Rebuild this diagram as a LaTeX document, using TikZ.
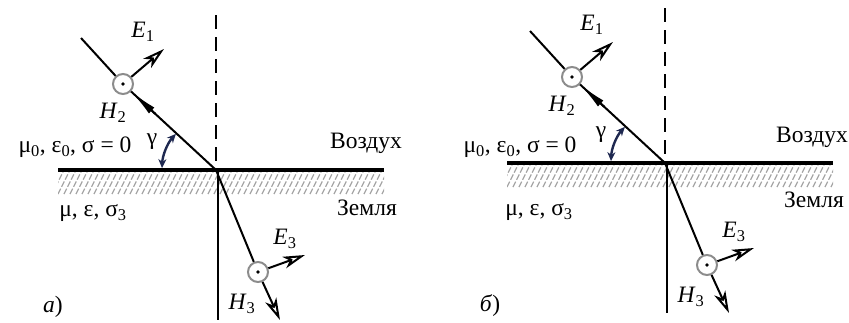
\documentclass[tikz,border=0pt]{standalone}
\usepackage{fontspec}
\setmainfont{Liberation Serif}
\usetikzlibrary{arrows.meta,calc}
\newcommand\panelgeom{%
  \coordinate (O) at (0,0);
  \coordinate (dtop) at (0,-155);
  \coordinate (il) at (-158,0);
  \coordinate (ir) at (168,0);
  \begin{scope}
    \clip (-158,2) rectangle (168,24);
    \foreach \x in {-176,-170,...,180} \draw[hatch] (\x,24) -- (\x+11,2);
  \end{scope}
  \draw[iface] (il) -- (ir);
  \draw[dashv] (dtop) -- (O);
  \coordinate (vt) at (2,0);
  \coordinate (vb) at (2,150);
  \draw[vline] (vt) -- (vb);
  \coordinate (s1) at (-135,-132);
  \node[fieldcirc] (c1) at (-93,-86) {};
  \draw[ray] (s1) -- (c1);
  \draw[ray] (c1) -- (O);
  \coordinate (e1) at (-52,-121);
  \draw[evec] (c1) -- (e1);
  \coordinate (h2tip) at ($(c1)!11pt!(O)$);
  \coordinate (h2tail) at ($(c1)!44pt!(O)$);
  \draw[hvec] (h2tail) -- (h2tip);
  \node[fieldcirc] (c3) at (42,102) {};
  \draw[ray] (O) -- (c3);
  \coordinate (h3) at (64,150);
  \draw[evec] (c3) -- (h3);
  \coordinate (e3) at (89,85);
  \draw[evec] (c3) -- (e3);
  \draw[garc] ($(O)+(222:54)$) arc[start angle=222,end angle=182,radius=54];
  \node[lbl] (lE1) at (-73,-138) {\textit{E}\textsubscript{1}};
  \node[lbl] (lH2) at (-103,-57) {\textit{H}\textsubscript{2}};
  \node[lbl] (lg) at (-64,-28) {γ};
  \node[lbl] (lE3) at (69,69) {\textit{E}\textsubscript{3}};
  \node[lbl] (lH3) at (26,134) {\textit{H}\textsubscript{3}};
}
\tikzset{
  lbl/.style={inner sep=0pt, font=\fontsize{23.5}{27}\selectfont},
  ray/.style={line width=2pt},
  iface/.style={line width=3.4pt},
  dashv/.style={line width=2.6pt, dash pattern=on 14pt off 8pt},
  vline/.style={line width=2.6pt},
  hatch/.style={draw=black!35, line width=1.3pt, dash pattern=on 6pt off 2pt},
  fieldcirc/.style={circle, draw=black!45, line width=2pt, minimum size=20pt, inner sep=0pt,
    path picture={\fill (path picture bounding box.center) circle (1.8pt);}},
  evec/.style={line width=2pt, -{Stealth[open, length=22pt, width=12pt, inset=6pt, line width=2pt]}},
  hvec/.style={line width=2pt, -{Latex[length=28pt, width=8pt]}},
  garc/.style={line width=2.4pt, draw={rgb,255:red,30;green,40;blue,80}, {Stealth[length=9pt,width=8pt]}-{Stealth[length=9pt,width=8pt]}},
}
\begin{document}
\begin{tikzpicture}[x=1pt, y=-1pt]
  \useasboundingbox (0,0) rectangle (849,322);
  \begin{scope}[shift={(216,170)}, name prefix=a-]
    \panelgeom
    \node[lbl] (air) at (150,-27) {Воздух};
    \node[lbl] (earth) at (151,38) {Земля};
    \node[lbl] (m0) at (-141,-23) {μ\textsubscript{0}, ε\textsubscript{0}, σ = 0};
    \node[lbl] (m) at (-123,43) {μ, ε, σ\textsubscript{3}};
  \end{scope}
  \begin{scope}[shift={(665,163)}, name prefix=b-]
    \panelgeom
    \node[lbl] (air) at (147,-26) {Воздух};
    \node[lbl] (earth) at (149,37) {Земля};
    \node[lbl] (m0) at (-145,-16) {μ\textsubscript{0}, ε\textsubscript{0}, σ = 0};
    \node[lbl] (m) at (-126,49) {μ, ε, σ\textsubscript{3}};
  \end{scope}
  \node[lbl] (pa) at (53,307) {\textit{а})};
  \node[lbl] (pb) at (490,306) {\textit{б})};
\end{tikzpicture}
\end{document}
